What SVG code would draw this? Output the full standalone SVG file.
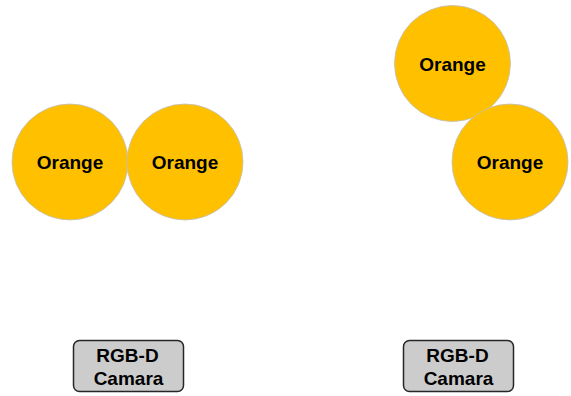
<svg xmlns="http://www.w3.org/2000/svg" width="571" height="396" viewBox="0 0 571 396">
<style>
.orange{fill:#FFC000;stroke:#BFBFBF;stroke-width:0.8}
.cam{fill:#CCCCCC;stroke:#262626;stroke-width:1.5}
text{font-family:"Liberation Sans",Arial,sans-serif;font-weight:bold;font-size:19px;fill:#000;text-anchor:middle}
</style>
<rect width="571" height="396" fill="#fff"/>
<g id="orange1"><circle class="orange" cx="70" cy="162" r="58"/><text x="70" y="169">Orange</text></g>
<g id="orange2"><circle class="orange" cx="185" cy="162" r="58"/><text x="185" y="169">Orange</text></g>
<g id="orange3"><circle class="orange" cx="452.5" cy="63.5" r="58"/><text x="452.5" y="70.5">Orange</text></g>
<g id="orange4"><circle class="orange" cx="510" cy="162" r="58"/><text x="510" y="169">Orange</text></g>
<g id="camera1"><rect class="cam" x="73.5" y="340.5" width="110" height="51" rx="6"/><text x="127.5" y="362">RGB-D</text><text x="128.5" y="385">Camara</text></g>
<g id="camera2"><rect class="cam" x="403.5" y="340.5" width="110" height="51" rx="6"/><text x="457.5" y="362">RGB-D</text><text x="458.5" y="385">Camara</text></g>
<g id="connectors"></g>
</svg>
